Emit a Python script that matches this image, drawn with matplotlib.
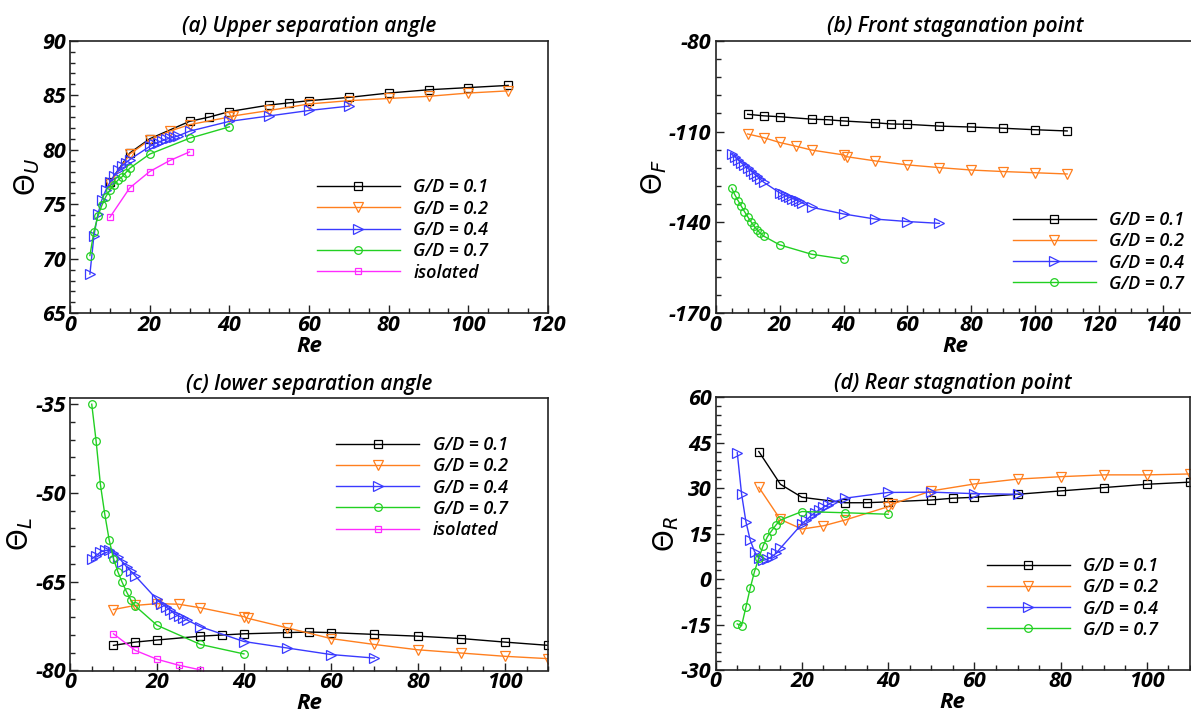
import matplotlib.pyplot as plt
from matplotlib.ticker import MultipleLocator

plt.rcParams['font.family'] = ['Open Sans', 'DejaVu Sans']
plt.rcParams['mathtext.fontset'] = 'dejavusans'
plt.rcParams['axes.unicode_minus'] = False

# Reynolds numbers of each case
re_01 = [10, 15, 20, 30, 35, 40, 50, 55, 60, 70, 80, 90, 100, 110]
re_02 = [10, 15, 20, 25, 30, 40, 41, 50, 60, 70, 80, 90, 100, 110]
re_04 = [5, 6, 7, 8, 9, 10, 11, 12, 13, 14, 15, 20, 21, 22, 23, 24, 25, 26, 27, 30, 40, 50, 60, 70]
re_07 = [5, 6, 7, 8, 9, 10, 11, 12, 13, 14, 15, 20, 30, 40]
re_iso = [10, 15, 20, 25, 30]

# (a) upper separation angle
up_01 = [77.0, 79.7, 81.0, 82.6, 83.0, 83.5, 84.1, 84.3, 84.5, 84.8, 85.2, 85.5, 85.7, 85.9]
up_02 = [76.9, 79.6, 80.9, 81.7, 82.3, 83.0, 83.1, 83.6, 84.2, 84.5, 84.7, 84.9, 85.2, 85.4]
up_04 = [68.6, 72.1, 74.1, 75.4, 76.3, 77.0, 77.6, 78.1, 78.5, 78.8, 79.1, 80.3, 80.5, 80.65,
         80.8, 80.95, 81.05, 81.15, 81.25, 81.7, 82.6, 83.1, 83.6, 84.0]
up_07 = [70.3, 72.5, 73.9, 74.9, 75.7, 76.3, 76.8, 77.2, 77.5, 77.9, 78.3, 79.6, 81.05, 82.1]
up_iso = [73.8, 76.5, 78.0, 79.0, 79.8]

# (b) front stagnation point
front_01 = [-104.3, -104.8, -105.1, -105.9, -106.1, -106.5, -107.1, -107.5, -107.6, -108.2,
            -108.5, -108.9, -109.4, -109.8]
front_02 = [-110.8, -112.0, -113.6, -114.8, -116.1, -117.7, -118.3, -119.7, -121.0, -121.9,
            -122.7, -123.2, -123.6, -124.0]
front_04 = [-117.5, -118.4, -119.4, -120.3, -121.2, -122.1, -123.0, -123.9, -124.8, -125.8,
            -126.7, -130.2, -130.7, -131.2, -131.7, -132.1, -132.5, -132.9, -133.5, -135.0,
            -137.2, -138.9, -139.7, -140.3]
front_07 = [-128.7, -130.9, -132.8, -134.6, -136.4, -138.1, -139.7, -141.2, -142.5, -143.6,
            -144.5, -147.4, -150.5, -152.1]

# (c) lower separation angle
low_01 = [-75.75, -75.2, -74.85, -74.2, -74.0, -73.8, -73.6, -73.5, -73.6, -73.9, -74.2,
          -74.6, -75.2, -75.75]
low_02 = [-69.7, -69.0, -68.7, -68.8, -69.4, -70.9, -71.2, -72.8, -74.6, -75.6, -76.5,
          -77.05, -77.6, -78.0]
low_04 = [-61.15, -60.6, -60.0, -59.7, -59.7, -60.1, -60.75, -61.6, -62.45, -63.2, -64.0,
          -68.0, -68.7, -69.2, -69.8, -70.4, -70.8, -71.1, -71.5, -72.6, -75.1, -76.2,
          -77.3, -77.9]
low_07 = [-35.0, -41.2, -48.6, -53.6, -57.9, -61.1, -63.3, -65.1, -66.7, -68.1, -69.1,
          -72.35, -75.6, -77.2]
low_iso = [-73.8, -76.6, -78.1, -79.1, -79.9]

# (d) rear stagnation point
rear_01 = [42.1, 31.3, 27.0, 25.2, 25.2, 25.5, 26.1, 26.7, 27.0, 28.0, 29.1, 30.2, 31.3, 32.0]
rear_02 = [30.3, 19.7, 16.5, 17.6, 19.5, 23.9, 24.8, 29.1, 31.4, 33.0, 33.8, 34.4, 34.4, 34.7]
rear_04 = [41.7, 28.1, 19.0, 12.9, 9.1, 6.9, 6.2, 6.5, 7.4, 8.5, 10.2, 18.2, 19.5, 20.8,
           21.9, 22.8, 23.7, 24.5, 25.3, 26.7, 28.6, 28.7, 28.2, 28.0]
rear_07 = [-14.8, -15.4, -9.3, -3.0, 2.5, 6.9, 11.0, 14.0, 16.0, 17.9, 19.5, 22.3, 21.9, 21.4]

labels = ['G/D = 0.1', 'G/D = 0.2', 'G/D = 0.4', 'G/D = 0.7', 'isolated']

c_black = '#000000'
c_orange = '#ff7f1e'
c_blue = '#3a3aff'
c_green = '#22d022'
c_mag = '#ff2bff'

W, H = 1191, 714
fig = plt.figure(figsize=(W / 100, H / 100), dpi=100)


def px_axes(x0, x1, y0, y1):
    return fig.add_axes([x0 / W, 1 - y1 / H, (x1 - x0) / W, (y1 - y0) / H])


def draw(ax, series, iso=None):
    sty = [('s', c_black, 5.5), ('v', c_orange, 6.5), ('>', c_blue, 6.5), ('o', c_green, 5.5)]
    for (x, y), (m, c, ms), lab in zip(series, sty, labels):
        ax.plot(x, y, color=c, lw=1.0, marker=m, ms=ms, mfc='none', mec=c, mew=0.9, label=lab)
    if iso is not None:
        ax.plot(iso[0], iso[1], color=c_mag, lw=1.0, marker='s', ms=3.8, mfc='none',
                mec=c_mag, mew=0.9, label=labels[4])


def style(ax, title, ylab, xlim, ylim, xmaj, ymaj, ymin):
    ax.set_xlim(*xlim)
    ax.set_ylim(*ylim)
    ax.xaxis.set_major_locator(MultipleLocator(xmaj))
    ax.xaxis.set_minor_locator(MultipleLocator(5))
    y0 = ylim[0]
    ax.yaxis.set_major_locator(MultipleLocator(ymaj, offset=y0 % ymaj))
    ax.yaxis.set_minor_locator(MultipleLocator(ymin, offset=y0 % ymin))
    ax.tick_params(which='both', direction='in', top=False, right=False, width=1.0,
                   colors='#222222')
    ax.tick_params(which='major', length=6, pad=3, labelsize=15.5)
    ax.tick_params(axis='x', which='major', pad=1)
    ax.tick_params(which='minor', length=3.5)
    for t in ax.get_xticklabels() + ax.get_yticklabels():
        t.set_fontweight('bold')
        t.set_fontstyle('italic')
        t.set_color('black')
    for s in ax.spines.values():
        s.set_linewidth(1.2)
        s.set_color('#222222')
    ax.set_title(title, fontsize=15, fontstyle='italic', fontweight='semibold', pad=6)
    ax.set_xlabel('Re', fontsize=16, fontstyle='italic', fontweight='bold', labelpad=0)
    ax.set_ylabel(ylab, fontsize=20, labelpad=0)


def legend(ax, x, y):
    ax.legend(loc='upper left', bbox_to_anchor=(x / W, 1 - y / H),
              bbox_transform=fig.transFigure, frameon=False,
              prop={'style': 'italic', 'weight': 'semibold', 'size': 13},
              handlelength=4.6, handletextpad=0.75, labelspacing=0.18,
              borderpad=0, borderaxespad=0, numpoints=1)


ax_a = px_axes(70, 548, 40.7, 313.3)
draw(ax_a, [(re_01, up_01), (re_02, up_02), (re_04, up_04), (re_07, up_07)], (re_iso, up_iso))
style(ax_a, '(a) Upper separation angle', r'$\Theta_{\mathit{U}}$', (0, 120), (65, 90), 20, 5, 1)
legend(ax_a, 316.7, 178.5)

ax_b = px_axes(715.7, 1195, 40.7, 313.3)
draw(ax_b, [(re_01, front_01), (re_02, front_02), (re_04, front_04), (re_07, front_07)])
style(ax_b, '(b) Front staganation point', r'$\Theta_{\mathit{F}}$', (0, 150), (-170, -80), 20, 30, 6)
legend(ax_b, 1012.7, 211)

ax_c = px_axes(70, 548.3, 398.3, 670.5)
draw(ax_c, [(re_01, low_01), (re_02, low_02), (re_04, low_04), (re_07, low_07)], (re_iso, low_iso))
style(ax_c, '(c) lower separation angle', r'$\Theta_{\mathit{L}}$', (0, 110), (-80, -34), 20, 15, 3)
legend(ax_c, 336, 436)

ax_d = px_axes(715.7, 1190, 397.3, 670)
draw(ax_d, [(re_01, rear_01), (re_02, rear_02), (re_04, rear_04), (re_07, rear_07)])
style(ax_d, '(d) Rear stagnation point', r'$\Theta_{\mathit{R}}$', (0, 110), (-30, 60), 20, 15, 3)
legend(ax_d, 986.7, 557)

fig.savefig('out.png', dpi=100)
